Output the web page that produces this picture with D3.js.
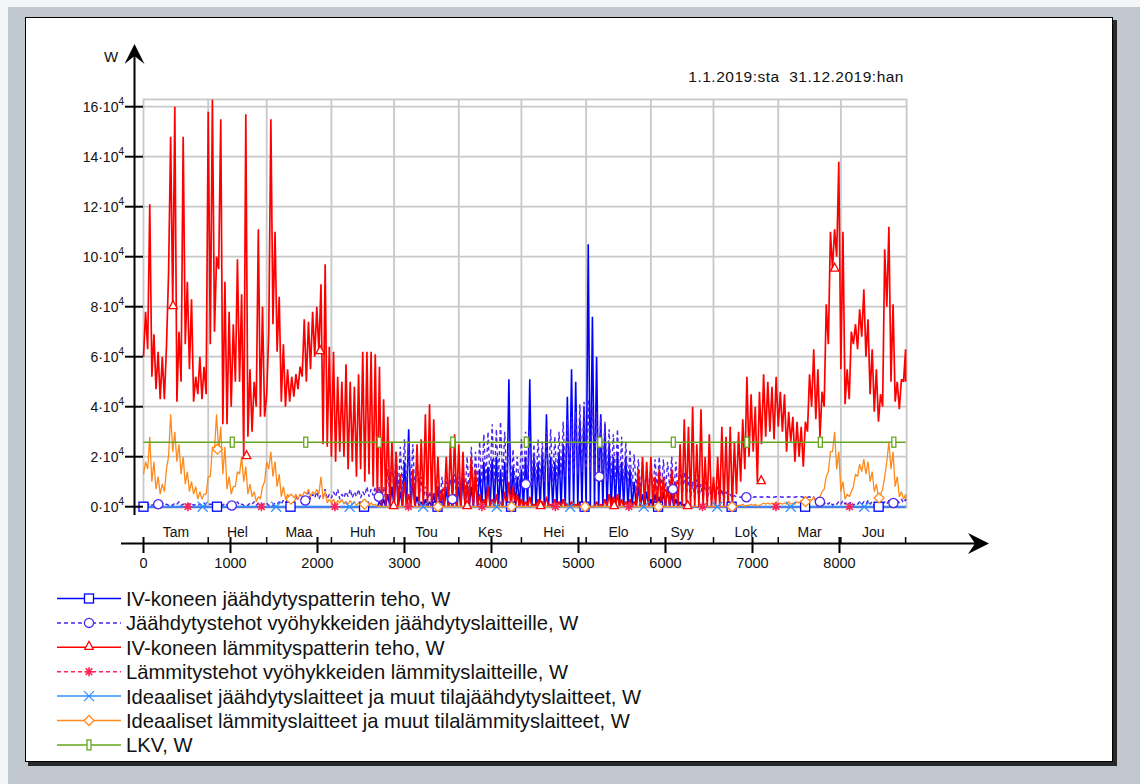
<!DOCTYPE html>
<html>
<head>
<meta charset="UTF-8">
<title>Tehot 1.1.2019 - 31.12.2019</title>
<script src="https://cdn.jsdelivr.net/npm/d3@7"></script>
<style>
    html, body { margin: 0; padding: 0; background: #f4f5f6; }
    svg { display: block; font-family: "Liberation Sans", Arial, sans-serif; }
</style>
</head>
<body>
<div id="chart"></div>
<script>
    // one reading per 48 h block: lo = block low, hi = block peak (unit 10^4 W)
    var step = 48;
    var yearHours = 8760;

    var hourTicks = [0, 1000, 2000, 3000, 4000, 5000, 6000, 7000, 8000];
    var yTicks = [0, 2, 4, 6, 8, 10, 12, 14, 16];
    var monthNames = ["Tam", "Hel", "Maa", "Huh", "Tou", "Kes", "Hei", "Elo", "Syy", "Lok", "Mar", "Jou"];
    var monthEnds = [744, 1416, 2160, 2880, 3624, 4344, 5088, 5832, 6552, 7296, 8016, 8760];

    // IV-koneen lämmityspatterin teho
    var redHi = [
        7.8, 12.1, 6.9, 6.2, 6.0, 6.4, 14.8, 16.0, 7.0, 14.8,
        9.0, 8.3, 5.2, 6.0, 5.6, 15.8, 16.3, 10.0, 15.5, 9.0,
        7.8, 7.3, 9.9, 8.5, 15.7, 5.5, 5.0, 11.1, 8.0, 4.5,
        15.5, 11.0, 8.4, 6.5, 5.5, 5.2, 5.3, 5.6, 7.5, 7.4,
        7.8, 8.0, 8.9, 9.7, 6.4, 6.2, 5.2, 5.0, 5.7, 5.0,
        4.8, 5.3, 6.2, 6.2, 6.2, 6.1, 5.6, 4.3, 3.6, 2.6,
        2.2, 1.3, 1.0, 0.5, 1.5, 2.5, 2.7, 3.7, 4.1, 3.5,
        2.0, 0.7, 2.0, 2.6, 2.9, 2.5, 2.2, 1.0, 2.0, 1.5,
        0.5, 0.3, 0.8, 0.3, 0.5, 0.2, 0.6, 1.0, 0.8, 0.5,
        0.3, 0.2, 0.4, 0.1, 0.3, 0.2, 0.4, 0.1, 0.3, 0.2,
        0.3, 0.1, 0.2, 0.1, 0.2, 0.0, 0.1, 0.0, 0.2, 0.1,
        0.3, 0.5, 0.4, 0.5, 0.3, 0.2, 0.3, 0.2, 1.5, 2.0,
        1.8, 2.0, 1.2, 1.5, 1.2, 0.8, 1.5, 1.0, 2.5, 3.5,
        3.2, 4.0, 2.5, 3.9, 2.0, 2.9, 1.2, 2.0, 3.2, 2.8,
        3.2, 2.6, 3.0, 3.5, 5.2, 4.5, 4.0, 4.6, 5.3, 5.0,
        4.8, 5.2, 4.6, 4.5, 3.8, 3.6, 3.4, 3.2, 3.4, 5.3,
        6.3, 5.5, 4.6, 8.1, 11.0, 11.1, 13.8, 11.0, 5.5, 7.0,
        7.3, 7.9, 8.7, 7.5, 6.3, 5.5, 4.5, 10.3, 11.2, 8.1,
        5.0, 5.1, 6.3
    ];
    var redLo = [
        6.0, 6.3, 5.2, 4.7, 4.3, 4.3, 9.3, 8.0, 4.2, 5.0,
        6.5, 5.5, 4.2, 4.5, 4.3, 4.5, 6.5, 7.0, 9.5, 3.3,
        3.3, 4.0, 5.0, 5.0, 2.0, 2.8, 3.0, 4.0, 3.6, 3.6,
        7.0, 7.3, 6.2, 4.2, 4.0, 4.2, 4.4, 4.7, 5.2, 5.0,
        5.5, 6.0, 6.2, 2.5, 2.4, 2.0, 1.8, 2.2, 2.0, 1.5,
        1.8, 1.2, 1.5, 1.0, 1.3, 0.8, 0.3, 0, 0, 0,
        0, 0, 0, 0, 0, 0, 0, 0, 0, 0,
        0, 0, 0, 0, 0, 0, 0, 0, 0, 0,
        0, 0, 0, 0, 0, 0, 0, 0, 0, 0,
        0, 0, 0, 0, 0, 0, 0, 0, 0, 0,
        0, 0, 0, 0, 0, 0, 0, 0, 0, 0,
        0, 0, 0, 0, 0, 0, 0, 0, 0, 0,
        0, 0, 0, 0, 0, 0, 0, 0, 0, 0,
        0, 0, 0, 0, 0, 0, 0, 0, 0, 0,
        0, 0, 0.5, 1.0, 1.5, 2.0, 2.2, 1.0, 2.5, 2.8,
        3.0, 2.7, 3.2, 3.0, 2.2, 2.6, 1.8, 2.0, 1.6, 3.0,
        4.0, 3.5, 2.8, 4.0, 6.5, 9.5, 10.0, 5.5, 4.1, 4.3,
        6.5, 6.3, 6.8, 6.0, 4.5, 3.8, 3.4, 4.0, 8.0, 5.0,
        4.2, 3.9, 5.0
    ];

    // IV-koneen jäähdytyspatterin teho, blocks 56..130 (zero outside)
    var blueFrom = 56;
    var blueHi = [
        0.2, 0.3, 0.5, 0.8,
        1.5, 0.6, 1.8, 3.1, 1.0, 0.4, 0.2, 0.3, 0.2, 0.5,
        0.8, 0.5, 0.7, 0.3, 0.5, 0.8, 1.2, 1.0, 0.8, 1.2,
        1.5, 1.8, 1.6, 1.9, 2.0, 1.5, 1.8, 5.1, 1.6, 1.2,
        1.5, 2.0, 5.1, 2.0, 1.8, 2.2, 3.7, 2.0, 1.8, 2.2,
        2.5, 4.4, 5.5, 5.0, 3.5, 4.0, 10.5, 7.6, 6.0, 3.7,
        3.3, 2.5, 2.0, 2.2, 1.8, 2.0, 1.5, 1.0, 0.8, 0.5,
        0.6, 0.3, 0.5, 0.4, 0.6, 0.8, 0.5, 0.3, 0.2, 0.1,
        0
    ];

    // Jäähdytystehot vyöhykkeiden jäähdytyslaitteille
    var violetHi = [
        0.2, 0.15, 0.1, 0.2, 0.15, 0.1, 0.1, 0.15, 0.2, 0.1,
        0.1, 0.15, 0.1, 0.1, 0.15, 0.1, 0.1, 0.1, 0.1, 0.15,
        0.1, 0.15, 0.2, 0.1, 0.1, 0.15, 0.2, 0.15, 0.1, 0.15,
        0.1, 0.15, 0.2, 0.25, 0.3, 0.35, 0.4, 0.5, 0.4, 0.6,
        0.5, 0.6, 0.5, 0.7, 0.5, 0.6, 0.7, 0.5, 0.6, 0.7,
        0.6, 0.7, 0.6, 0.8, 0.7, 0.8, 0.8, 0.8, 1.5, 2.0,
        2.2, 2.4, 2.7, 2.6, 2.5, 2.0, 1.2, 0.8, 0.6, 0.6,
        0.8, 1.2, 1.0, 1.1, 1.3, 1.2, 1.6, 2.0, 2.4, 2.2,
        2.6, 2.9, 3.0, 3.3, 3.1, 3.4, 3.0, 2.6, 2.3, 2.0,
        2.7, 3.0, 2.8, 2.5, 2.7, 2.6, 3.0, 3.1, 2.8, 3.0,
        3.4, 3.5, 3.6, 3.8, 4.1, 4.2, 4.3, 4.0, 3.8, 3.6,
        3.4, 3.1, 2.9, 3.1, 2.8, 2.6, 2.3, 2.1, 1.9, 1.8,
        1.5, 1.7, 1.9, 2.0, 1.9, 1.8, 2.0, 1.8, 1.6, 1.4,
        1.2, 1.0, 1.1, 0.9, 1.0, 0.8, 0.9, 0.8, 0.7, 0.6,
        0.5, 0.45, 0.4, 0.4, 0.4, 0.4, 0.4, 0.4, 0.4, 0.4,
        0.4, 0.4, 0.4, 0.4, 0.4, 0.4, 0.4, 0.4, 0.4, 0.4,
        0.4, 0.3, 0.25, 0.2, 0.2, 0.15, 0.2, 0.25, 0.2, 0.2,
        0.15, 0.2, 0.2, 0.25, 0.2, 0.15, 0.2, 0.2, 0.25, 0.3,
        0.25, 0.3, 0.3
    ];
    var violetLo = [
        0.05, 0.05, 0.05, 0.1, 0.05, 0.05, 0.05, 0.05, 0.1, 0.05,
        0.05, 0.1, 0.05, 0.05, 0.05, 0.05, 0.1, 0.05, 0.05, 0.05,
        0.05, 0.05, 0.1, 0.05, 0.05, 0.05, 0.1, 0.05, 0.05, 0.1,
        0.05, 0.05, 0.1, 0.1, 0.15, 0.2, 0.2, 0.3, 0.25, 0.3,
        0.3, 0.35, 0.3, 0.4, 0.3, 0.35, 0.4, 0.3, 0.35, 0.4,
        0.35, 0.4, 0.35, 0.45, 0.4, 0.45, 0.4, 0.2, 0.3, 0.4,
        0.5, 0.6, 0.7, 0.7, 0.6, 0.5, 0.3, 0.3, 0.2, 0.2,
        0.2, 0.3, 0.3, 0.3, 0.4, 0.3, 0.4, 0.5, 0.6, 0.6,
        0.8, 0.9, 1.0, 1.0, 0.9, 1.0, 1.0, 0.9, 0.8, 0.7,
        0.8, 0.9, 0.9, 0.8, 0.9, 0.9, 1.0, 1.0, 1.0, 1.0,
        1.1, 1.2, 1.2, 1.3, 1.3, 1.4, 1.5, 1.4, 1.3, 1.2,
        1.1, 1.0, 1.0, 1.0, 0.9, 0.8, 0.8, 0.7, 0.6, 0.6,
        0.5, 0.5, 0.6, 0.6, 0.6, 0.6, 0.7, 0.6, 0.5, 0.4,
        0.4, 0.3, 0.3, 0.3, 0.3, 0.3, 0.3, 0.3, 0.3, 0.3,
        0.3, 0.35, 0.38, 0.38, 0.38, 0.38, 0.38, 0.38, 0.38, 0.38,
        0.38, 0.38, 0.38, 0.38, 0.38, 0.38, 0.38, 0.38, 0.38, 0.38,
        0.35, 0.2, 0.1, 0.1, 0.1, 0.05, 0.1, 0.1, 0.1, 0.1,
        0.05, 0.1, 0.1, 0.1, 0.1, 0.05, 0.1, 0.1, 0.1, 0.15,
        0.1, 0.15, 0.15
    ];

    // Ideaaliset lämmityslaitteet ja muut tilalämmityslaitteet
    var orangeHi = [
        1.8, 2.8, 1.8, 1.2, 0.9, 1.5, 3.7, 3.0, 2.5, 2.0,
        1.4, 1.0, 0.8, 0.6, 0.5, 1.2, 2.4, 3.7, 3.2, 2.4,
        1.2, 0.8, 1.4, 2.0, 1.6, 0.9, 0.6, 0.4, 0.8, 1.8,
        2.2, 1.8, 1.3, 0.8, 0.5, 0.4, 0.5, 0.5, 0.6, 0.7,
        0.6, 0.7, 1.2, 0.6, 0.3, 0.3, 0.25, 0.3, 0.2, 0.25,
        0.2, 0.15, 0.2, 0.1, 0.15, 0.1, 0.05, 0, 0, 0,
        0, 0, 0, 0, 0, 0, 0, 0, 0, 0,
        0, 0, 0, 0, 0, 0, 0, 0, 0, 0,
        0, 0, 0, 0, 0, 0, 0, 0, 0, 0,
        0, 0, 0, 0, 0, 0, 0, 0, 0, 0,
        0, 0, 0, 0, 0, 0, 0, 0, 0, 0,
        0, 0, 0, 0, 0, 0, 0, 0, 0, 0,
        0, 0, 0, 0, 0, 0, 0, 0, 0, 0,
        0, 0, 0, 0, 0, 0, 0, 0, 0, 0,
        0.02, 0.05, 0.05, 0.1, 0.05, 0.1, 0.1, 0.05, 0.15, 0.15,
        0.15, 0.2, 0.15, 0.15, 0.2, 0.15, 0.2, 0.25, 0.3, 0.3,
        0.4, 0.35, 0.6, 1.2, 2.2, 3.0, 2.2, 1.0, 0.5, 0.6,
        1.3, 1.7, 1.9, 1.8, 1.4, 0.9, 0.5, 1.2, 2.6, 2.2,
        1.2, 0.6, 0.5
    ];
    var orangeLo = [
        1.3, 1.5, 1.0, 0.7, 0.5, 0.6, 2.0, 2.2, 1.8, 1.3,
        0.9, 0.6, 0.5, 0.3, 0.3, 0.5, 1.2, 2.3, 2.2, 1.3,
        0.7, 0.5, 0.8, 1.3, 1.0, 0.5, 0.4, 0.2, 0.3, 1.0,
        1.5, 1.2, 0.8, 0.4, 0.3, 0.3, 0.3, 0.3, 0.4, 0.5,
        0.4, 0.5, 0.5, 0.3, 0.15, 0.15, 0.1, 0.15, 0.1, 0.1,
        0.1, 0.05, 0.1, 0.05, 0.05, 0.05, 0, 0, 0, 0,
        0, 0, 0, 0, 0, 0, 0, 0, 0, 0,
        0, 0, 0, 0, 0, 0, 0, 0, 0, 0,
        0, 0, 0, 0, 0, 0, 0, 0, 0, 0,
        0, 0, 0, 0, 0, 0, 0, 0, 0, 0,
        0, 0, 0, 0, 0, 0, 0, 0, 0, 0,
        0, 0, 0, 0, 0, 0, 0, 0, 0, 0,
        0, 0, 0, 0, 0, 0, 0, 0, 0, 0,
        0, 0, 0, 0, 0, 0, 0, 0, 0, 0,
        0, 0.02, 0.02, 0.05, 0.02, 0.05, 0.05, 0.02, 0.1, 0.1,
        0.1, 0.1, 0.1, 0.1, 0.1, 0.1, 0.1, 0.15, 0.2, 0.2,
        0.25, 0.25, 0.4, 0.7, 1.4, 2.2, 1.5, 0.6, 0.3, 0.4,
        0.8, 1.2, 1.4, 1.3, 1.0, 0.6, 0.35, 0.7, 1.8, 1.5,
        0.8, 0.4, 0.3
    ];

    // monthly readings (step 730 h) for the flat series
    var flatStep = 730;
    var pinkVals = [0, 0, 0, 0, 0, 0, 0, 0, 0, 0, 0, 0, 0];
    var cyanVals = [0, 0, 0, 0, 0, 0, 0, 0, 0, 0, 0, 0, 0];
    var lkvVals = [2.58, 2.58, 2.58, 2.58, 2.58, 2.58, 2.58, 2.58, 2.58, 2.58, 2.58, 2.58, 2.58];

    var seriesNames = [
        "IV-koneen jäähdytyspatterin teho, W",
        "Jäähdytystehot vyöhykkeiden jäähdytyslaitteille, W",
        "IV-koneen lämmityspatterin teho, W",
        "Lämmitystehot vyöhykkeiden lämmityslaitteille, W",
        "Ideaaliset jäähdytyslaitteet ja muut tilajäähdytyslaitteet, W",
        "Ideaaliset lämmityslaitteet ja muut tilalämmityslaitteet, W",
        "LKV, W"
    ];

    // marker spacing along the time axis
    var markerEvery = 845;
    var markerShift = 170;

    // ---------- points ----------
    // block readings -> low / peak points
    function blockPoints(hi, lo, from) {
        from = from || 0;
        var pts = [];
        if (from > 0) pts.push([0, 0]);
        hi.forEach(function (v, k) {
            var i = k + from;
            pts.push([i * step, lo ? lo[k] : 0]);
            pts.push([i * step + step / 2, v]);
        });
        var end = (from + hi.length) * step;
        pts.push([Math.min(end, yearHours), lo ? lo[lo.length - 1] : 0]);
        if (end < yearHours) pts.push([yearHours, 0]);
        return pts;
    }
    function flatPoints(vals) {
        return vals.map(function (v, i) { return [Math.min(i * flatStep, yearHours), v]; });
    }
    function blockValue(lo, from) {
        return function (h) {
            var k = Math.floor(h / step) - (from || 0);
            if (!lo || k < 0 || k >= lo.length) return 0;
            return lo[k];
        };
    }
    function flatValue(vals) {
        return function (h) { return vals[Math.min(Math.round(h / flatStep), vals.length - 1)]; };
    }

    var series = [
        { color: "#0000ff", dash: null, marker: "square", width: 1.6,
          pts: blockPoints(blueHi, null, blueFrom), at: blockValue(null, blueFrom) },
        { color: "#4b24ee", dash: "4,3", marker: "circle", width: 1.4,
          pts: blockPoints(violetHi, violetLo), at: blockValue(violetLo) },
        { color: "#ff0000", dash: null, marker: "triangle", width: 1.7,
          pts: blockPoints(redHi, redLo), at: blockValue(redLo) },
        { color: "#ff2456", dash: "4,3", marker: "star", width: 1.2,
          pts: flatPoints(pinkVals), at: flatValue(pinkVals) },
        { color: "#2f8fff", dash: null, marker: "cross", width: 1.8,
          pts: flatPoints(cyanVals), at: flatValue(cyanVals) },
        { color: "#ff8a1c", dash: null, marker: "diamond", width: 1.3,
          pts: blockPoints(orangeHi, orangeLo), at: blockValue(orangeLo) },
        { color: "#66a61e", dash: null, marker: "bar", width: 1.6,
          pts: flatPoints(lkvVals), at: flatValue(lkvVals) }
    ];

    // ---------- svg ----------
    var width = 1140, height = 784;
    var svg = d3.select("#chart").append("svg")
        .attr("width", width)
        .attr("height", height);

    // window + paper
    svg.append("rect").attr("x", 8).attr("y", 7).attr("width", width - 8).attr("height", height - 7).attr("fill", "#c1c8d0");
    svg.append("rect").attr("x", 28).attr("y", 20).attr("width", 1089).attr("height", 746).attr("fill", "#2a2a2a");
    svg.append("rect").attr("x", 25.5).attr("y", 17.5).attr("width", 1087).attr("height", 744)
        .attr("fill", "#fff").attr("stroke", "#000").attr("stroke-width", 1);

    var x = d3.scaleLinear().domain([0, yearHours]).range([143.5, 905.6]);
    var y = d3.scaleLinear().domain([0, 16]).range([506.7, 106.7]);
    var plotTop = y(16.29), plotBottom = y(0) + 1;

    // grid
    var grid = svg.append("g").attr("stroke", "#c8c8c8").attr("stroke-width", 1.8);
    grid.selectAll("line.h").data(yTicks).enter().append("line")
        .attr("x1", x(0)).attr("x2", x(yearHours) + 1)
        .attr("y1", function (d) { return y(d); })
        .attr("y2", function (d) { return y(d); });
    grid.selectAll("line.v").data(monthEnds.slice(0, 11)).enter().append("line")
        .attr("x1", function (d) { return x(d); }).attr("x2", function (d) { return x(d); })
        .attr("y1", plotTop).attr("y2", plotBottom);
    grid.append("rect")
        .attr("x", x(0)).attr("y", plotTop)
        .attr("width", x(yearHours) + 1 - x(0)).attr("height", plotBottom - plotTop)
        .attr("fill", "none");

    svg.append("clipPath").attr("id", "plotClip").append("rect")
        .attr("x", x(0) - 6).attr("y", plotTop)
        .attr("width", x(yearHours) - x(0) + 8).attr("height", plotBottom - plotTop + 6);

    // series lines
    var line = d3.line()
        .x(function (d) { return x(d[0]); })
        .y(function (d) { return y(d[1]); });

    var lines = svg.append("g").attr("clip-path", "url(#plotClip)");
    series.forEach(function (s) {
        lines.append("path")
            .attr("d", line(s.pts))
            .attr("fill", "none")
            .attr("stroke", s.color)
            .attr("stroke-width", s.width)
            .attr("stroke-dasharray", s.dash)
            .attr("stroke-linejoin", "bevel");
    });

    // marker shapes
    function drawMarker(g, kind, color) {
        var m;
        if (kind === "square") {
            m = g.append("rect").attr("x", -4.5).attr("y", -4.5).attr("width", 9).attr("height", 9);
        } else if (kind === "circle") {
            m = g.append("circle").attr("r", 4.6);
        } else if (kind === "triangle") {
            m = g.append("path").attr("d", "M0,-6L4.2,2L-4.2,2Z");
        } else if (kind === "star") {
            m = g.append("path").attr("d", "M-4.5,0H4.5M0,-4.5V4.5M-3.3,-3.3L3.3,3.3M-3.3,3.3L3.3,-3.3")
                .attr("stroke-width", 1.6);
        } else if (kind === "cross") {
            m = g.append("path").attr("d", "M-5,-5L5,5M-5,5L5,-5");
        } else if (kind === "diamond") {
            m = g.append("path").attr("d", "M0,-5L5,0L0,5L-5,0Z");
        } else {
            m = g.append("rect").attr("x", -2).attr("y", -5).attr("width", 4).attr("height", 10);
        }
        m.attr("fill", (kind === "star" || kind === "cross") ? "none" : "#fff")
            .attr("stroke", color);
        if (kind !== "star") m.attr("stroke-width", 1.3);
    }

    var markers = svg.append("g").attr("clip-path", "url(#plotClip)");
    series.forEach(function (s, k) {
        for (var h = k * markerShift; h <= yearHours; h += markerEvery) {
            var g = markers.append("g")
                .attr("transform", "translate(" + x(h) + "," + y(s.at(h)) + ")");
            drawMarker(g, s.marker, s.color);
        }
    });

    // ---------- axes ----------
    var axis = svg.append("g").attr("stroke", "#000");
    var axisX = 134.5, axisY = 543.5;

    // y axis with arrow
    axis.append("line").attr("x1", axisX).attr("x2", axisX).attr("y1", 56).attr("y2", 515).attr("stroke-width", 2);
    svg.append("path").attr("d", "M134.5,44L144.5,64L134.5,56L124.5,64Z").attr("fill", "#000");
    axis.selectAll("line.yt").data(yTicks).enter().append("line")
        .attr("x1", 125).attr("x2", 143)
        .attr("y1", function (d) { return y(d); })
        .attr("y2", function (d) { return y(d); })
        .attr("stroke-width", 2);

    var yLab = svg.append("g").attr("font-size", 14).attr("fill", "#111").attr("text-anchor", "end");
    yTicks.forEach(function (d) {
        var t = yLab.append("text").attr("x", 124).attr("y", y(d) + 5);
        t.append("tspan").text(d + "·10");
        t.append("tspan").attr("dy", -7).attr("font-size", 10).text("4");
    });
    svg.append("text").attr("x", 104).attr("y", 62).attr("font-size", 15).attr("fill", "#111").text("W");

    // x axis with arrow
    axis.append("line").attr("x1", 121).attr("x2", 978).attr("y1", axisY).attr("y2", axisY).attr("stroke-width", 2);
    svg.append("path").attr("d", "M989,543.5L968,533L975,543.5L968,554Z").attr("fill", "#000");
    axis.selectAll("line.xt").data(hourTicks).enter().append("line")
        .attr("x1", function (d) { return x(d); }).attr("x2", function (d) { return x(d); })
        .attr("y1", 537).attr("y2", 553).attr("stroke-width", 2);
    axis.selectAll("line.mt").data(monthEnds).enter().append("line")
        .attr("x1", function (d) { return x(d); }).attr("x2", function (d) { return x(d); })
        .attr("y1", 537).attr("y2", axisY).attr("stroke-width", 1.5);

    svg.append("g").attr("font-size", 14.5).attr("fill", "#111").attr("text-anchor", "middle")
        .selectAll("text").data(hourTicks).enter().append("text")
        .attr("x", function (d) { return x(d); })
        .attr("y", 568)
        .text(function (d) { return d; });

    svg.append("g").attr("font-size", 14).attr("fill", "#111").attr("text-anchor", "middle")
        .selectAll("text").data(monthNames).enter().append("text")
        .attr("x", function (d, i) { return x(((i ? monthEnds[i - 1] : 0) + monthEnds[i]) / 2); })
        .attr("y", 537)
        .text(function (d) { return d; });

    // period text
    svg.append("text").attr("x", 904).attr("y", 82).attr("font-size", 15.5).attr("letter-spacing", 0.5)
        .attr("fill", "#111").attr("text-anchor", "end")
        .attr("xml:space", "preserve").style("white-space", "pre")
        .text("1.1.2019:sta  31.12.2019:han");

    // ---------- legend ----------
    var legend = svg.append("g");
    series.forEach(function (s, k) {
        var ly = 598.5 + k * 24.4;
        var row = legend.append("g");
        row.append("line").attr("x1", 57).attr("x2", 121).attr("y1", ly).attr("y2", ly)
            .attr("stroke", s.color).attr("stroke-width", 1.5).attr("stroke-dasharray", s.dash);
        drawMarker(row.append("g").attr("transform", "translate(89," + ly + ")"), s.marker, s.color);
        row.append("text").attr("x", 126).attr("y", ly + 7.5)
            .attr("font-size", 20.2).attr("fill", "#111")
            .text(seriesNames[k]);
    });
</script>
</body>
</html>
